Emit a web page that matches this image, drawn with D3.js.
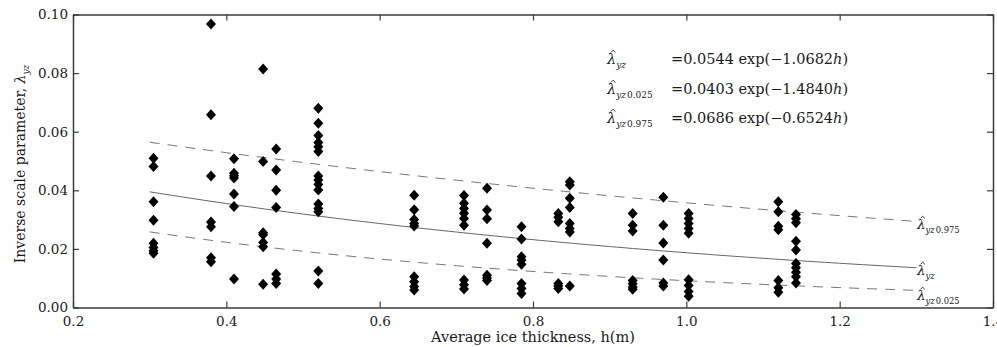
<!DOCTYPE html>
<html>
<head>
<meta charset="utf-8">
<script src="https://cdn.jsdelivr.net/npm/d3@7"></script>
<style>
  html, body { margin: 0; padding: 0; background: #fff; overflow: hidden; }
  svg { display: block; }
  text { font-family: "DejaVu Serif", "Liberation Serif", serif; fill: #1a1a1a; }
</style>
</head>
<body>
<svg id="chart" width="997" height="347"></svg>
<script>
// ---------- data ----------
const xTickValues = [0.2, 0.4, 0.6, 0.8, 1.0, 1.2, 1.4];
const xTickLabels = ["0.2", "0.4", "0.6", "0.8", "1.0", "1.2", "1.4"];
const yTickValues = [0, 0.02, 0.04, 0.06, 0.08, 0.10];
const yTickLabels = ["0.00", "0.02", "0.04", "0.06", "0.08", "0.10"];

// average ice thickness of each measurement group
const groupThickness = [0.305, 0.38, 0.41, 0.448, 0.465, 0.52, 0.645, 0.71, 0.74,
                        0.785, 0.833, 0.848, 0.93, 0.97, 1.003, 1.12, 1.143];
// estimated inverse scale parameters for each group
const groupLambda = [
  [0.0509, 0.0481, 0.0361, 0.0298, 0.0219, 0.0205, 0.0194, 0.0185],
  [0.0968, 0.0658, 0.0449, 0.0292, 0.0276, 0.0170, 0.0156],
  [0.0508, 0.0458, 0.0450, 0.0442, 0.0387, 0.0345, 0.0097],
  [0.0814, 0.0498, 0.0255, 0.0248, 0.0222, 0.0207, 0.0079],
  [0.0541, 0.0469, 0.0400, 0.0341, 0.0114, 0.0097, 0.0082],
  [0.0680, 0.0629, 0.0587, 0.0563, 0.0549, 0.0532, 0.0449, 0.0435, 0.0420, 0.0401,
   0.0353, 0.0338, 0.0327, 0.0125, 0.0082],
  [0.0383, 0.0334, 0.0300, 0.0287, 0.0278, 0.0105, 0.0088, 0.0072, 0.0060],
  [0.0382, 0.0356, 0.0338, 0.0322, 0.0304, 0.0281, 0.0094, 0.0078, 0.0063],
  [0.0407, 0.0333, 0.0303, 0.0219, 0.0110, 0.0101, 0.0092],
  [0.0276, 0.0234, 0.0173, 0.0162, 0.0148, 0.0082, 0.0065, 0.0048],
  [0.0321, 0.0308, 0.0293, 0.0082, 0.0073, 0.0065],
  [0.0429, 0.0418, 0.0373, 0.0341, 0.0287, 0.0270, 0.0258, 0.0073],
  [0.0321, 0.0281, 0.0261, 0.0092, 0.0081, 0.0070, 0.0062],
  [0.0376, 0.0281, 0.0220, 0.0162, 0.0084, 0.0073],
  [0.0321, 0.0304, 0.0287, 0.0270, 0.0253, 0.0095, 0.0075, 0.0055, 0.0038],
  [0.0361, 0.0327, 0.0277, 0.0265, 0.0092, 0.0067, 0.0052],
  [0.0317, 0.0303, 0.0289, 0.0226, 0.0196, 0.0150, 0.0136, 0.0120, 0.0105, 0.0084]
];

// fitted curves  lambda = a * exp(b * h)
const fitSuffix = ["", "0.025", "0.975"];
const fitA = [0.0544, 0.0403, 0.0686];
const fitB = [-1.0682, -1.4840, -0.6524];
const fitEquation = ["=0.0544  exp(\u22121.0682", "=0.0403  exp(\u22121.4840", "=0.0686  exp(\u22120.6524"];
const fitHRange = [0.3, 1.3];

// ---------- layout ----------
const svg = d3.select("#chart");
const x = d3.scaleLinear().domain([0.2, 1.4]).range([73, 993]);
const y = d3.scaleLinear().domain([0, 0.10]).range([307.5, 14.5]);

const axisColor = "#3a3a3a";

function styleAxis(g) {
  g.select(".domain").attr("stroke", axisColor).attr("stroke-width", 1.5);
  g.selectAll(".tick line").attr("stroke", axisColor).attr("stroke-width", 1.2);
}

// bottom axis
svg.append("g")
  .attr("transform", `translate(0,${y(0)})`)
  .call(d3.axisBottom(x).tickValues(xTickValues)
    .tickFormat((d, i) => xTickLabels[i]).tickSizeInner(-6).tickSizeOuter(0).tickPadding(9))
  .call(styleAxis)
  .call(g => g.selectAll("text").attr("font-size", 13.5).attr("font-family", "DejaVu Serif").attr("fill", "#1a1a1a"));

// top axis (ticks only)
svg.append("g")
  .attr("transform", `translate(0,${y(0.10)})`)
  .call(d3.axisTop(x).tickValues(xTickValues).tickFormat("").tickSizeInner(-6).tickSizeOuter(0))
  .call(styleAxis);

// left axis
svg.append("g")
  .attr("transform", `translate(${x(0.2)},0)`)
  .call(d3.axisLeft(y).tickValues(yTickValues)
    .tickFormat((d, i) => yTickLabels[i]).tickSizeInner(-6).tickSizeOuter(0).tickPadding(5))
  .call(styleAxis)
  .call(g => g.selectAll("text").attr("font-size", 13.5).attr("font-family", "DejaVu Serif").attr("fill", "#1a1a1a"));

// right axis (ticks only)
svg.append("g")
  .attr("transform", `translate(${x(1.4)},0)`)
  .call(d3.axisRight(y).tickValues(yTickValues).tickFormat("").tickSizeInner(-6).tickSizeOuter(0))
  .call(styleAxis);

// ---------- fitted curves ----------
const hSamples = d3.range(fitHRange[0], fitHRange[1] + 1e-9, 0.01);
const line = d3.line().x(d => x(d[0])).y(d => y(d[1]));
const curveStyles = [
  { dash: null, color: "#666" },
  { dash: "10,8", color: "#777" },
  { dash: "10,8", color: "#777" }
];
fitA.forEach((a, i) => {
  const pts = hSamples.map(h => [h, a * Math.exp(fitB[i] * h)]);
  svg.append("path")
    .attr("d", line(pts))
    .attr("fill", "none")
    .attr("stroke", curveStyles[i].color)
    .attr("stroke-width", 1)
    .attr("stroke-dasharray", curveStyles[i].dash);
});

// ---------- points ----------
const points = [];
groupThickness.forEach((h, i) => groupLambda[i].forEach(v => points.push([h, v])));
const dw = 5, dh = 5.5;
svg.append("g").selectAll("path")
  .data(points)
  .join("path")
  .attr("d", d => {
    const cx = x(d[0]), cy = y(d[1]);
    return `M${cx},${cy - dh}L${cx + dw},${cy}L${cx},${cy + dh}L${cx - dw},${cy}Z`;
  })
  .attr("fill", "#000");

// ---------- lambda-hat label helper ----------
function lambdaHat(g, px, py, suffix, size) {
  const t = g.append("text").attr("x", px).attr("y", py).attr("font-size", size);
  t.append("tspan").attr("font-style", "italic").text("\u03bb");
  t.append("tspan").attr("font-size", size * 0.62).attr("dy", size * 0.28)
    .attr("font-style", "italic").text("yz");
  if (suffix) {
    t.append("tspan").attr("font-size", size * 0.62).attr("dx", 1).text(suffix);
  }
  // hat accent drawn as a small caret
  const hx = px + size * 0.42, hy = py - size * 0.95, hw = size * 0.16, hh = size * 0.16;
  g.append("path")
    .attr("d", `M${hx - hw},${hy + hh}L${hx},${hy}L${hx + hw},${hy + hh}`)
    .attr("fill", "none").attr("stroke", "#1a1a1a").attr("stroke-width", 0.9);
}

// equation legend
const legendRows = [59, 89, 118];
fitA.forEach((a, i) => {
  const ly = legendRows[i] + 5;
  lambdaHat(svg, 607, ly, fitSuffix[i], 14.5);
  const t = svg.append("text").attr("x", 671).attr("y", ly).attr("font-size", 14.5);
  t.append("tspan").text(fitEquation[i]);
  t.append("tspan").attr("font-style", "italic").text("h");
  t.append("tspan").text(")");
});

// curve end labels
const endY = [272, 297, 226];
[0, 1, 2].forEach(i => lambdaHat(svg, 917, endY[i] + 3, fitSuffix[i], 13.5));

// axis titles
svg.append("text")
  .attr("x", x(0.8)).attr("y", 342)
  .attr("text-anchor", "middle")
  .attr("font-family", "Liberation Serif")
  .attr("font-size", 14.5)
  .text("Average ice thickness, h(m)");

const yl = svg.append("text")
  .attr("transform", `translate(25,${y(0.05) + 3}) rotate(-90)`)
  .attr("text-anchor", "middle")
  .attr("font-family", "Liberation Serif")
  .attr("font-size", 14);
yl.append("tspan").text("Inverse scale parameter, ");
yl.append("tspan").attr("font-style", "italic").text("\u03bb");
yl.append("tspan").attr("font-size", 9).attr("dy", 4).attr("font-style", "italic").text("yz");
</script>
</body>
</html>
